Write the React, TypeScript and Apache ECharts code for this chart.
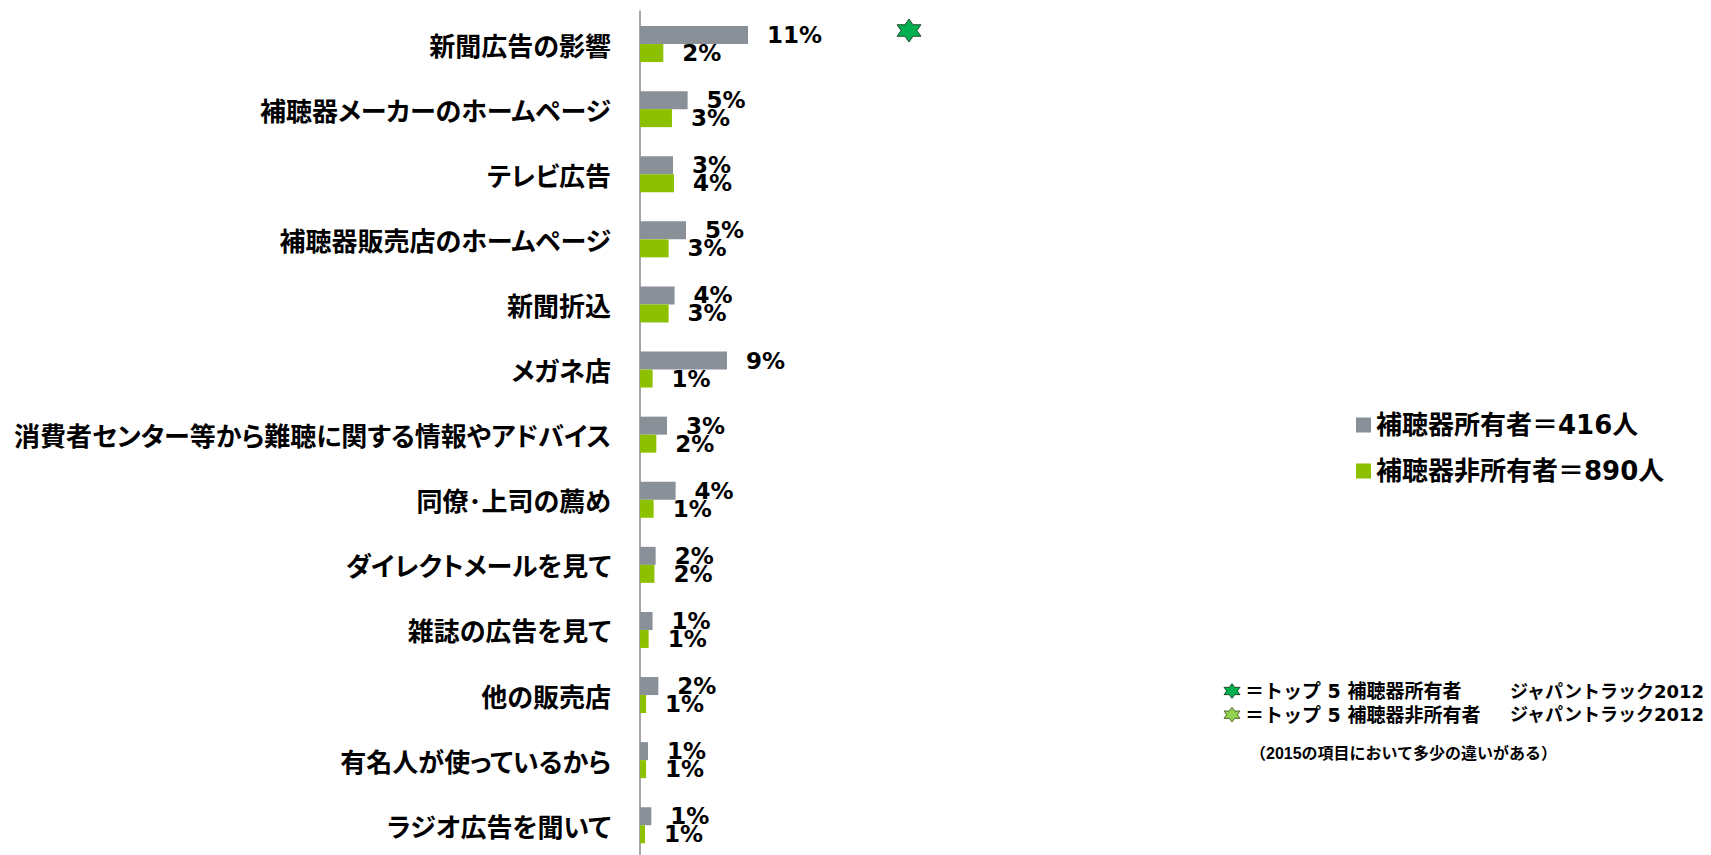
import React, { useEffect, useRef } from "react";
import * as echarts from "echarts";

const categories = [
  "新聞広告の影響",
  "補聴器メーカーのホームページ",
  "テレビ広告",
  "補聴器販売店のホームページ",
  "新聞折込",
  "メガネ店",
  "消費者センター等から難聴に関する情報やアドバイス",
  "同僚･上司の薦め",
  "ダイレクトメールを見て",
  "雑誌の広告を見て",
  "他の販売店",
  "有名人が使っているから",
  "ラジオ広告を聞いて",
];

const seriesNames = ["補聴器所有者＝416人", "補聴器非所有者＝890人"];

// percent values
const ownerValues = [11.25, 4.96, 3.44, 4.79, 3.6, 9.06, 2.81, 3.71, 1.63, 1.31, 1.91, 0.83, 1.18];
const nonOwnerValues = [2.43, 3.33, 3.54, 2.98, 2.98, 1.31, 1.7, 1.42, 1.5, 0.9, 0.63, 0.63, 0.52];

const noteLeft = ["＝トップ 5 補聴器所有者", "＝トップ 5 補聴器非所有者"];
const noteRight = "ジャパントラック2012";
const footnote = "（2015の項目において多少の違いがある）";

const GRAY = "#8A9097";
const GREEN = "#8DC100";

function starPoints(cx: number, cy: number, R: number, sx: number) {
  const pts: number[][] = [];
  const r = R / Math.sqrt(3);
  for (let i = 0; i < 12; i++) {
    const a = ((-90 + i * 30) * Math.PI) / 180;
    const rr = i % 2 === 0 ? R : r;
    pts.push([cx + rr * Math.cos(a) * sx, cy + rr * Math.sin(a)]);
  }
  return pts;
}

export default function App() {
  const ref = useRef<HTMLDivElement>(null);
  useEffect(() => {
    if (!ref.current) return;
    const chart = echarts.init(ref.current, undefined, { renderer: "svg" });
    const labelStyle = {
      show: true,
      position: "right" as const,
      distance: 19,
      fontFamily: "DejaVu Sans",
      fontWeight: "bold" as const,
      fontSize: 23,
      lineHeight: 17,
      color: "#000",
      formatter: (p: any) => Math.round(p.value) + "%",
    };
    const noteFont = "'DejaVu Sans', 'Noto Sans CJK JP'";
    chart.setOption({
      animation: false,
      backgroundColor: "#fff",
      grid: {
        left: 640,
        top: 11.5,
        width: 960,
        height: 846.3,
        containLabel: false,
        outerBoundsMode: "none",
      },
      xAxis: { type: "value", min: 0, max: 100, show: false },
      yAxis: {
        type: "category",
        data: categories,
        inverse: true,
        axisLine: { lineStyle: { color: "#A6A6A6", width: 2 } },
        axisTick: { length: 9, lineStyle: { color: "#A6A6A6", width: 2 } },
        axisLabel: {
          margin: 29,
          fontFamily: "'Noto Sans CJK JP'",
          fontWeight: "bold",
          fontSize: 26,
          color: "#000",
        },
        splitLine: { show: false },
      },
      legend: {
        data: seriesNames,
        orient: "vertical",
        left: 1351,
        top: 407,
        itemGap: 20,
        icon: "rect",
        itemWidth: 15,
        itemHeight: 15,
        selectedMode: false,
        textStyle: {
          fontSize: 26,
          fontWeight: "bold",
          fontFamily: "'DejaVu Sans', 'Noto Sans CJK JP'",
          color: "#000",
        },
      },
      series: [
        {
          name: seriesNames[0],
          type: "bar",
          data: ownerValues,
          barWidth: 18,
          barGap: "0%",
          itemStyle: { color: GRAY },
          label: labelStyle,
        },
        {
          name: seriesNames[1],
          type: "bar",
          data: nonOwnerValues,
          barWidth: 18,
          barGap: "0%",
          itemStyle: { color: GREEN },
          label: labelStyle,
        },
      ],
      graphic: [
        {
          type: "polygon",
          shape: { points: starPoints(909, 30.5, 11.5, 1.2) },
          style: { fill: "#00B050", stroke: "#1E4D2B", lineWidth: 1 },
        },
        {
          type: "polygon",
          shape: { points: starPoints(1232, 691, 7.3, 1.26) },
          style: { fill: "#00B050", stroke: "#1E4D2B", lineWidth: 1 },
        },
        {
          type: "polygon",
          shape: { points: starPoints(1232, 714.7, 7.3, 1.26) },
          style: { fill: "#92D050", stroke: "#4F6B2A", lineWidth: 1 },
        },
        {
          type: "text",
          x: 1245,
          y: 691,
          style: { text: noteLeft[0], font: `bold 19px ${noteFont}`, fill: "#000", textVerticalAlign: "middle" },
        },
        {
          type: "text",
          x: 1245,
          y: 714.7,
          style: { text: noteLeft[1], font: `bold 19px ${noteFont}`, fill: "#000", textVerticalAlign: "middle" },
        },
        {
          type: "text",
          x: 1510,
          y: 691,
          style: { text: noteRight, font: `bold 18px ${noteFont}`, fill: "#000", textVerticalAlign: "middle" },
        },
        {
          type: "text",
          x: 1510,
          y: 714.7,
          style: { text: noteRight, font: `bold 18px ${noteFont}`, fill: "#000", textVerticalAlign: "middle" },
        },
        {
          type: "text",
          x: 1250,
          y: 753,
          style: {
            text: footnote,
            font: "bold 16px 'Liberation Sans', 'Noto Sans CJK JP'",
            fill: "#000",
            textVerticalAlign: "middle",
          },
        },
      ],
    });
    return () => chart.dispose();
  }, []);
  return (
    <>
      <style>{`#chartbox text{font-feature-settings:"palt" 1;}`}</style>
      <div
        id="chartbox"
        ref={ref}
        style={{ position: "absolute", left: 0, top: 0, width: 1711, height: 855 }}
      />
    </>
  );
}
